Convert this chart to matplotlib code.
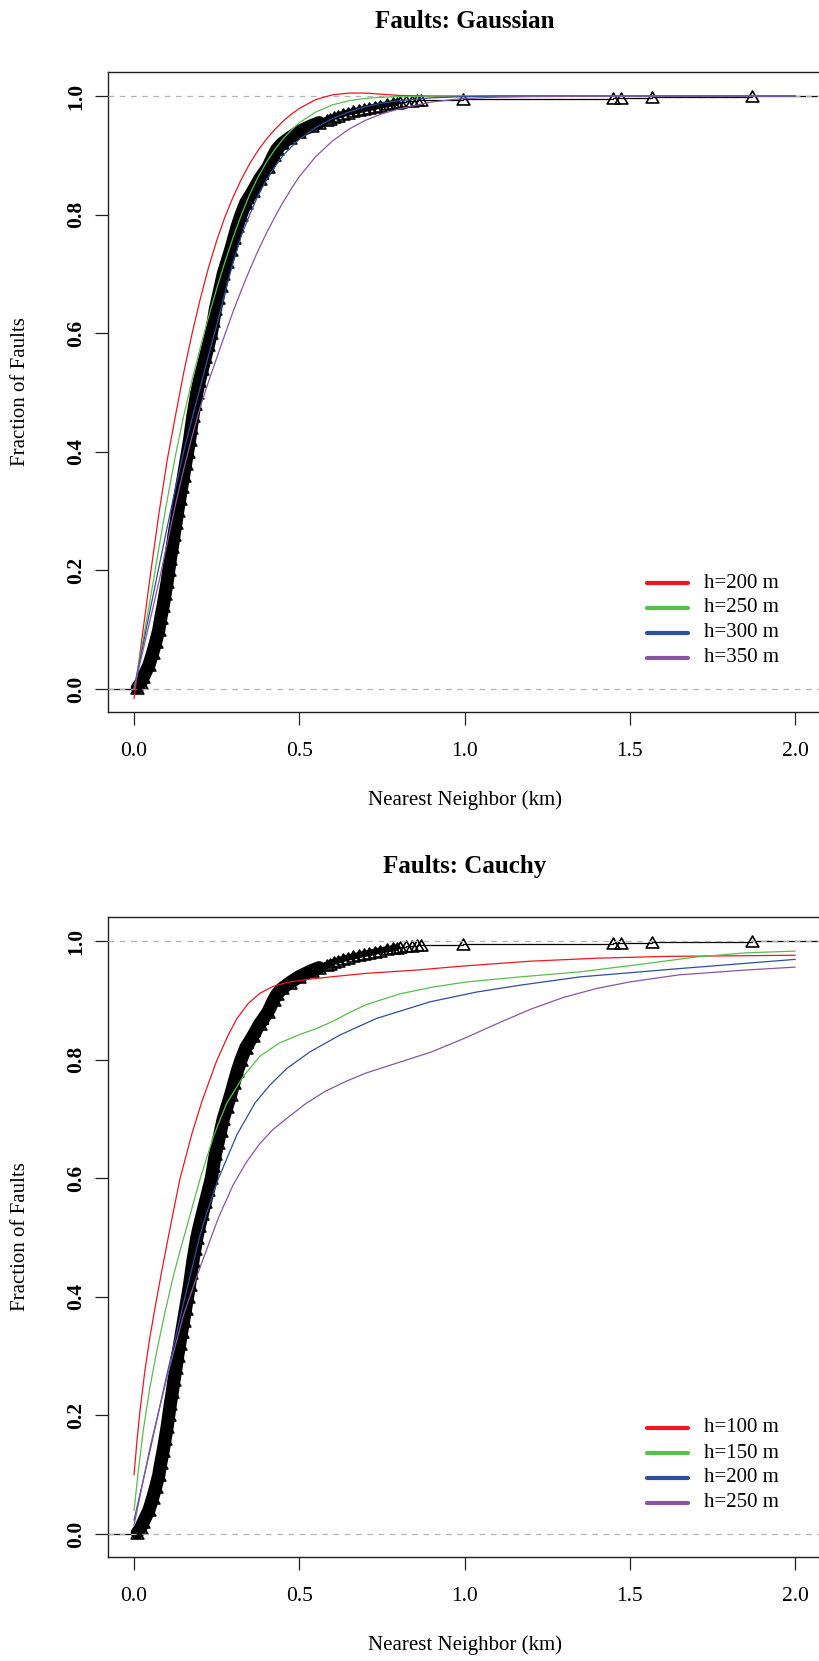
import numpy as np
import matplotlib
matplotlib.use("Agg")
import matplotlib.pyplot as plt
from matplotlib.path import Path

plt.rcParams['font.family'] = ['Liberation Serif', 'DejaVu Serif']

# Empirical CDF of fault nearest-neighbour distances (km, cumulative fraction)
nn_km = [0.010, 0.020, 0.028, 0.045, 0.056, 0.066, 0.075, 0.081, 0.088, 0.094,
         0.100, 0.105, 0.110, 0.116, 0.121, 0.127, 0.132, 0.138, 0.144, 0.150,
         0.156, 0.162, 0.168, 0.173, 0.178, 0.184, 0.190, 0.198, 0.207, 0.216,
         0.225, 0.234, 0.240, 0.246, 0.254, 0.262, 0.270, 0.281, 0.292, 0.302,
         0.312, 0.324, 0.338, 0.360, 0.380, 0.405, 0.422, 0.432, 0.448, 0.472,
         0.500, 0.537, 0.560, 0.583, 0.592, 0.605, 0.617, 0.633, 0.648, 0.662,
         0.680, 0.695, 0.712, 0.728, 0.745, 0.765, 0.785, 0.795, 0.805, 0.822,
         0.840, 0.855, 0.868, 0.994, 1.448, 1.474, 1.566, 1.869]
nn_frac = [0.002, 0.010, 0.020, 0.040, 0.060, 0.080, 0.100, 0.120, 0.140, 0.160,
           0.180, 0.200, 0.220, 0.240, 0.260, 0.280, 0.300, 0.320, 0.340, 0.360,
           0.380, 0.400, 0.420, 0.440, 0.460, 0.480, 0.500, 0.520, 0.540, 0.560,
           0.580, 0.600, 0.620, 0.640, 0.660, 0.680, 0.700, 0.720, 0.740, 0.760,
           0.780, 0.800, 0.820, 0.840, 0.860, 0.880, 0.900, 0.910, 0.920, 0.930,
           0.940, 0.950, 0.955, 0.960, 0.962, 0.965, 0.967, 0.970, 0.972, 0.974,
           0.976, 0.978, 0.980, 0.982, 0.984, 0.986, 0.988, 0.989, 0.990, 0.991,
           0.992, 0.993, 0.994, 0.995, 0.996, 0.997, 0.998, 1.000]

# Gaussian-kernel model CDFs
gauss_km = [0.0, 0.025, 0.05, 0.075, 0.1, 0.125, 0.15, 0.175, 0.2, 0.225, 0.25,
            0.275, 0.3, 0.325, 0.35, 0.375, 0.4, 0.425, 0.45, 0.475, 0.5, 0.55,
            0.6, 0.65, 0.7, 0.75, 0.8, 0.9, 1.0, 1.1, 1.2, 1.5, 2.0]
gauss_h200 = [-0.016, 0.09, 0.195, 0.295, 0.385, 0.46, 0.533, 0.598, 0.657, 0.71,
              0.756, 0.796, 0.83, 0.86, 0.886, 0.908, 0.927, 0.943, 0.957, 0.969,
              0.979, 0.994, 1.002, 1.005, 1.005, 1.003, 1.001, 1.0, 1.0, 1.0, 1.0,
              1.0, 1.0]
gauss_h250 = [0.0, 0.075, 0.155, 0.237, 0.318, 0.393, 0.46, 0.52, 0.575, 0.627,
              0.675, 0.72, 0.762, 0.80, 0.834, 0.863, 0.888, 0.909, 0.927, 0.942,
              0.955, 0.973, 0.985, 0.992, 0.996, 0.998, 0.999, 1.0, 1.0, 1.0, 1.0,
              1.0, 1.0]
gauss_h300 = [0.0, 0.068, 0.137, 0.205, 0.272, 0.338, 0.40, 0.455, 0.508, 0.562,
              0.613, 0.668, 0.72, 0.765, 0.80, 0.832, 0.858, 0.88, 0.899, 0.914,
              0.927, 0.947, 0.962, 0.973, 0.982, 0.988, 0.992, 0.997, 0.999, 1.0,
              1.0, 1.0, 1.0]
gauss_h350 = [0.0, 0.06, 0.12, 0.18, 0.245, 0.31, 0.37, 0.425, 0.475, 0.518,
              0.558, 0.598, 0.637, 0.673, 0.707, 0.739, 0.768, 0.795, 0.82, 0.843,
              0.864, 0.898, 0.924, 0.944, 0.959, 0.97, 0.978, 0.99, 0.996, 0.998,
              0.999, 1.0, 1.0]

# Cauchy-kernel model CDFs
cauchy_h100_km = [0, 0.008, 0.018, 0.033, 0.048, 0.064, 0.084, 0.1, 0.114, 0.139,
                  0.174, 0.205, 0.25, 0.285, 0.311, 0.346, 0.381, 0.421, 0.462,
                  0.522, 0.603, 0.704, 0.855, 1.0, 1.2, 1.4, 1.6, 1.8, 2.0]
cauchy_h100 = [0.10, 0.152, 0.208, 0.276, 0.332, 0.383, 0.444, 0.49, 0.53, 0.599,
               0.673, 0.729, 0.798, 0.8415, 0.869, 0.895, 0.912, 0.9235, 0.930,
               0.935, 0.940, 0.9455, 0.951, 0.958, 0.966, 0.971, 0.974, 0.975, 0.976]
cauchy_h150_km = [0, 0.013, 0.028, 0.048, 0.069, 0.094, 0.119, 0.139, 0.167, 0.2,
                  0.24, 0.28, 0.331, 0.381, 0.44, 0.5, 0.55, 0.6, 0.65, 0.704,
                  0.805, 0.906, 1.006, 1.168, 1.35, 1.55, 1.70, 1.85, 2.0]
cauchy_h150 = [0.04, 0.107, 0.175, 0.247, 0.309, 0.375, 0.435, 0.477, 0.533, 0.599,
               0.67, 0.726, 0.772, 0.806, 0.828, 0.842, 0.852, 0.864, 0.879,
               0.893, 0.911, 0.9225, 0.931, 0.9395, 0.948, 0.962, 0.973, 0.980,
               0.983]
cauchy_h200_km = [0, 0.05, 0.1, 0.15, 0.2, 0.215, 0.255, 0.311, 0.366, 0.411,
                  0.462, 0.532, 0.623, 0.734, 0.896, 1.037, 1.168, 1.349, 1.65, 2.0]
cauchy_h200 = [0.0235, 0.145, 0.27, 0.39, 0.505, 0.533, 0.599, 0.673, 0.727, 0.757,
               0.785, 0.813, 0.8415, 0.8695, 0.8975, 0.914, 0.9255, 0.9395, 0.9535,
               0.969]
cauchy_h250_km = [0, 0.05, 0.1, 0.15, 0.2, 0.218, 0.255, 0.3, 0.34, 0.38, 0.42,
                  0.46, 0.52, 0.58, 0.64, 0.7, 0.8, 0.9, 1.0, 1.1, 1.2, 1.3, 1.4,
                  1.5, 1.65, 1.85, 2.0]
cauchy_h250 = [0.015, 0.15, 0.265, 0.37, 0.45, 0.477, 0.533, 0.589, 0.627, 0.658,
               0.682, 0.70, 0.726, 0.747, 0.763, 0.777, 0.795, 0.813, 0.836, 0.861,
               0.885, 0.905, 0.92, 0.931, 0.943, 0.951, 0.956]

gauss_labels = ["h=200 m", "h=250 m", "h=300 m", "h=350 m"]
cauchy_labels = ["h=100 m", "h=150 m", "h=200 m", "h=250 m"]
line_colors = ["#F0161F", "#58BE4C", "#2D4F9E", "#8955A5"]

x_ticks = [0.0, 0.5, 1.0, 1.5, 2.0]
y_ticks = [0.0, 0.2, 0.4, 0.6, 0.8, 1.0]

W, H = 819, 1661
fig = plt.figure(figsize=(W / 100, H / 100), dpi=100)

# open triangle, as wide as the marker size
tri = Path([(-0.5, -0.433), (0.5, -0.433), (0.0, 0.433), (-0.5, -0.433)],
           [Path.MOVETO, Path.LINETO, Path.LINETO, Path.CLOSEPOLY])


def fy(y):
    return 1 - y / H


def draw_panel(top, title, curves, labels):
    left, right, bottom = 107.6, 821.5, top + 640
    ax = fig.add_axes([left / W, fy(bottom), (right - left) / W, (bottom - top) / H])
    xlo, xhi = -0.08, 2.08
    ax.set_xlim(xlo, xhi)
    ax.set_ylim(-0.0388, 1.0405)

    km = np.array(nn_km)
    fr = np.array(nn_frac)
    dense = km <= 0.56
    packed = (km >= 0.55) & (km <= 0.80)
    # step-function tails
    ax.plot([xlo, km[0]], [0, 0], color="black", lw=0.9, zorder=2)
    ax.plot([km[-1], xhi], [1, 1], color="black", lw=0.9, zorder=2)
    ax.plot(km[dense], fr[dense], color="black", lw=9.5, solid_joinstyle="round",
            solid_capstyle="round", zorder=2)
    ax.plot(km[packed], fr[packed], color="black", lw=4.5, solid_joinstyle="round",
            solid_capstyle="round", zorder=2)
    ax.step(km, fr, where="post", color="black", lw=0.9, zorder=2)
    ax.plot(km, fr, linestyle="none", marker=tri, ms=9.1, mfc="none",
            mec="black", mew=1.2, zorder=3)

    for yv in (0, 1):
        ax.axhline(yv, color="#b3b3b3", lw=0.9, dashes=(4.5, 4.5), zorder=4)

    for (ckm, cfr), col in zip(curves, line_colors):
        ax.plot(ckm, cfr, color=col, lw=0.9, zorder=5)

    ax.set_xticks(x_ticks)
    ax.set_xticklabels([f"{v:.1f}" for v in x_ticks])
    ax.set_yticks(y_ticks)
    ax.set_yticklabels([f"{v:.1f}" for v in y_ticks], rotation=90, va="center",
                       fontweight="bold")
    ax.tick_params(axis="both", direction="out", length=9.5, width=0.9,
                   colors="#222222", labelcolor="black")
    ax.tick_params(axis="x", pad=12, labelsize=15.5)
    ax.tick_params(axis="y", pad=6, labelsize=15.5)
    for sp in ax.spines.values():
        sp.set_linewidth(1.0)
        sp.set_color("#222222")

    off = top - 72
    fig.text(464.5 / W, fy(22 + off), title, ha="center", va="center",
             fontsize=18, fontweight="bold")
    fig.text(21 / W, fy(392 + off), "Fraction of Faults", rotation=90,
             ha="center", va="center", fontsize=15)
    fig.text(464.5 / W, fy(800 + off), "Nearest Neighbor (km)", ha="center",
             va="center", fontsize=15)

    rows = [583, 608, 633, 657.5]
    for ry, lab, col in zip(rows, labels, line_colors):
        yy = fy(ry + off)
        ax.plot([647 / W, 688 / W], [yy, yy], transform=fig.transFigure,
                color=col, lw=3.0, solid_capstyle="round", clip_on=False, zorder=6)
        fig.text(704 / W, yy, lab, ha="left", va="center", fontsize=15)
    return ax


draw_panel(72, "Faults: Gaussian",
           [(gauss_km, gauss_h200), (gauss_km, gauss_h250),
            (gauss_km, gauss_h300), (gauss_km, gauss_h350)],
           gauss_labels)
draw_panel(917, "Faults: Cauchy",
           [(cauchy_h100_km, cauchy_h100), (cauchy_h150_km, cauchy_h150),
            (cauchy_h200_km, cauchy_h200), (cauchy_h250_km, cauchy_h250)],
           cauchy_labels)

fig.savefig("out.png", dpi=100)
